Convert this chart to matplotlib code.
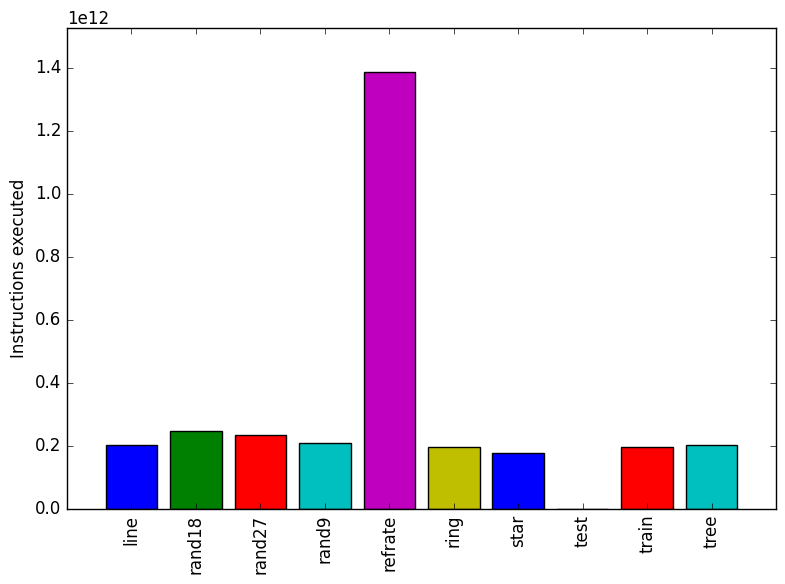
import matplotlib
matplotlib.use('Agg')
import matplotlib.pyplot as plt

# benchmark names and instruction counts
names = ['line', 'rand18', 'rand27', 'rand9', 'refrate', 'ring', 'star', 'test', 'train', 'tree']
instructions = [0.203e12, 0.247e12, 0.234e12, 0.209e12, 1.3895e12,
                0.196e12, 0.177e12, 0.0003e12, 0.196e12, 0.202e12]
colors = ['b', 'g', 'r', 'c', 'm', 'y']

plt.style.use('classic')
fig = plt.figure(figsize=(7.85, 5.84), dpi=100, facecolor='white')
ax = fig.add_axes([0.0854, 0.1284, 0.9031, 0.8236])

pos = range(len(names))
bar_colors = [colors[i % len(colors)] for i in pos]
ax.bar(pos, instructions, width=0.8, align='center', color=bar_colors, edgecolor='black', linewidth=1)
ax.set_xticks(list(pos))
ax.set_xticklabels(names, rotation=90)
ax.set_xlim(-1, len(names))
ax.set_ylim(0, max(instructions) * 1.1)
ax.set_ylabel('Instructions executed')

fig.savefig('out.png', dpi=100, facecolor='white')
